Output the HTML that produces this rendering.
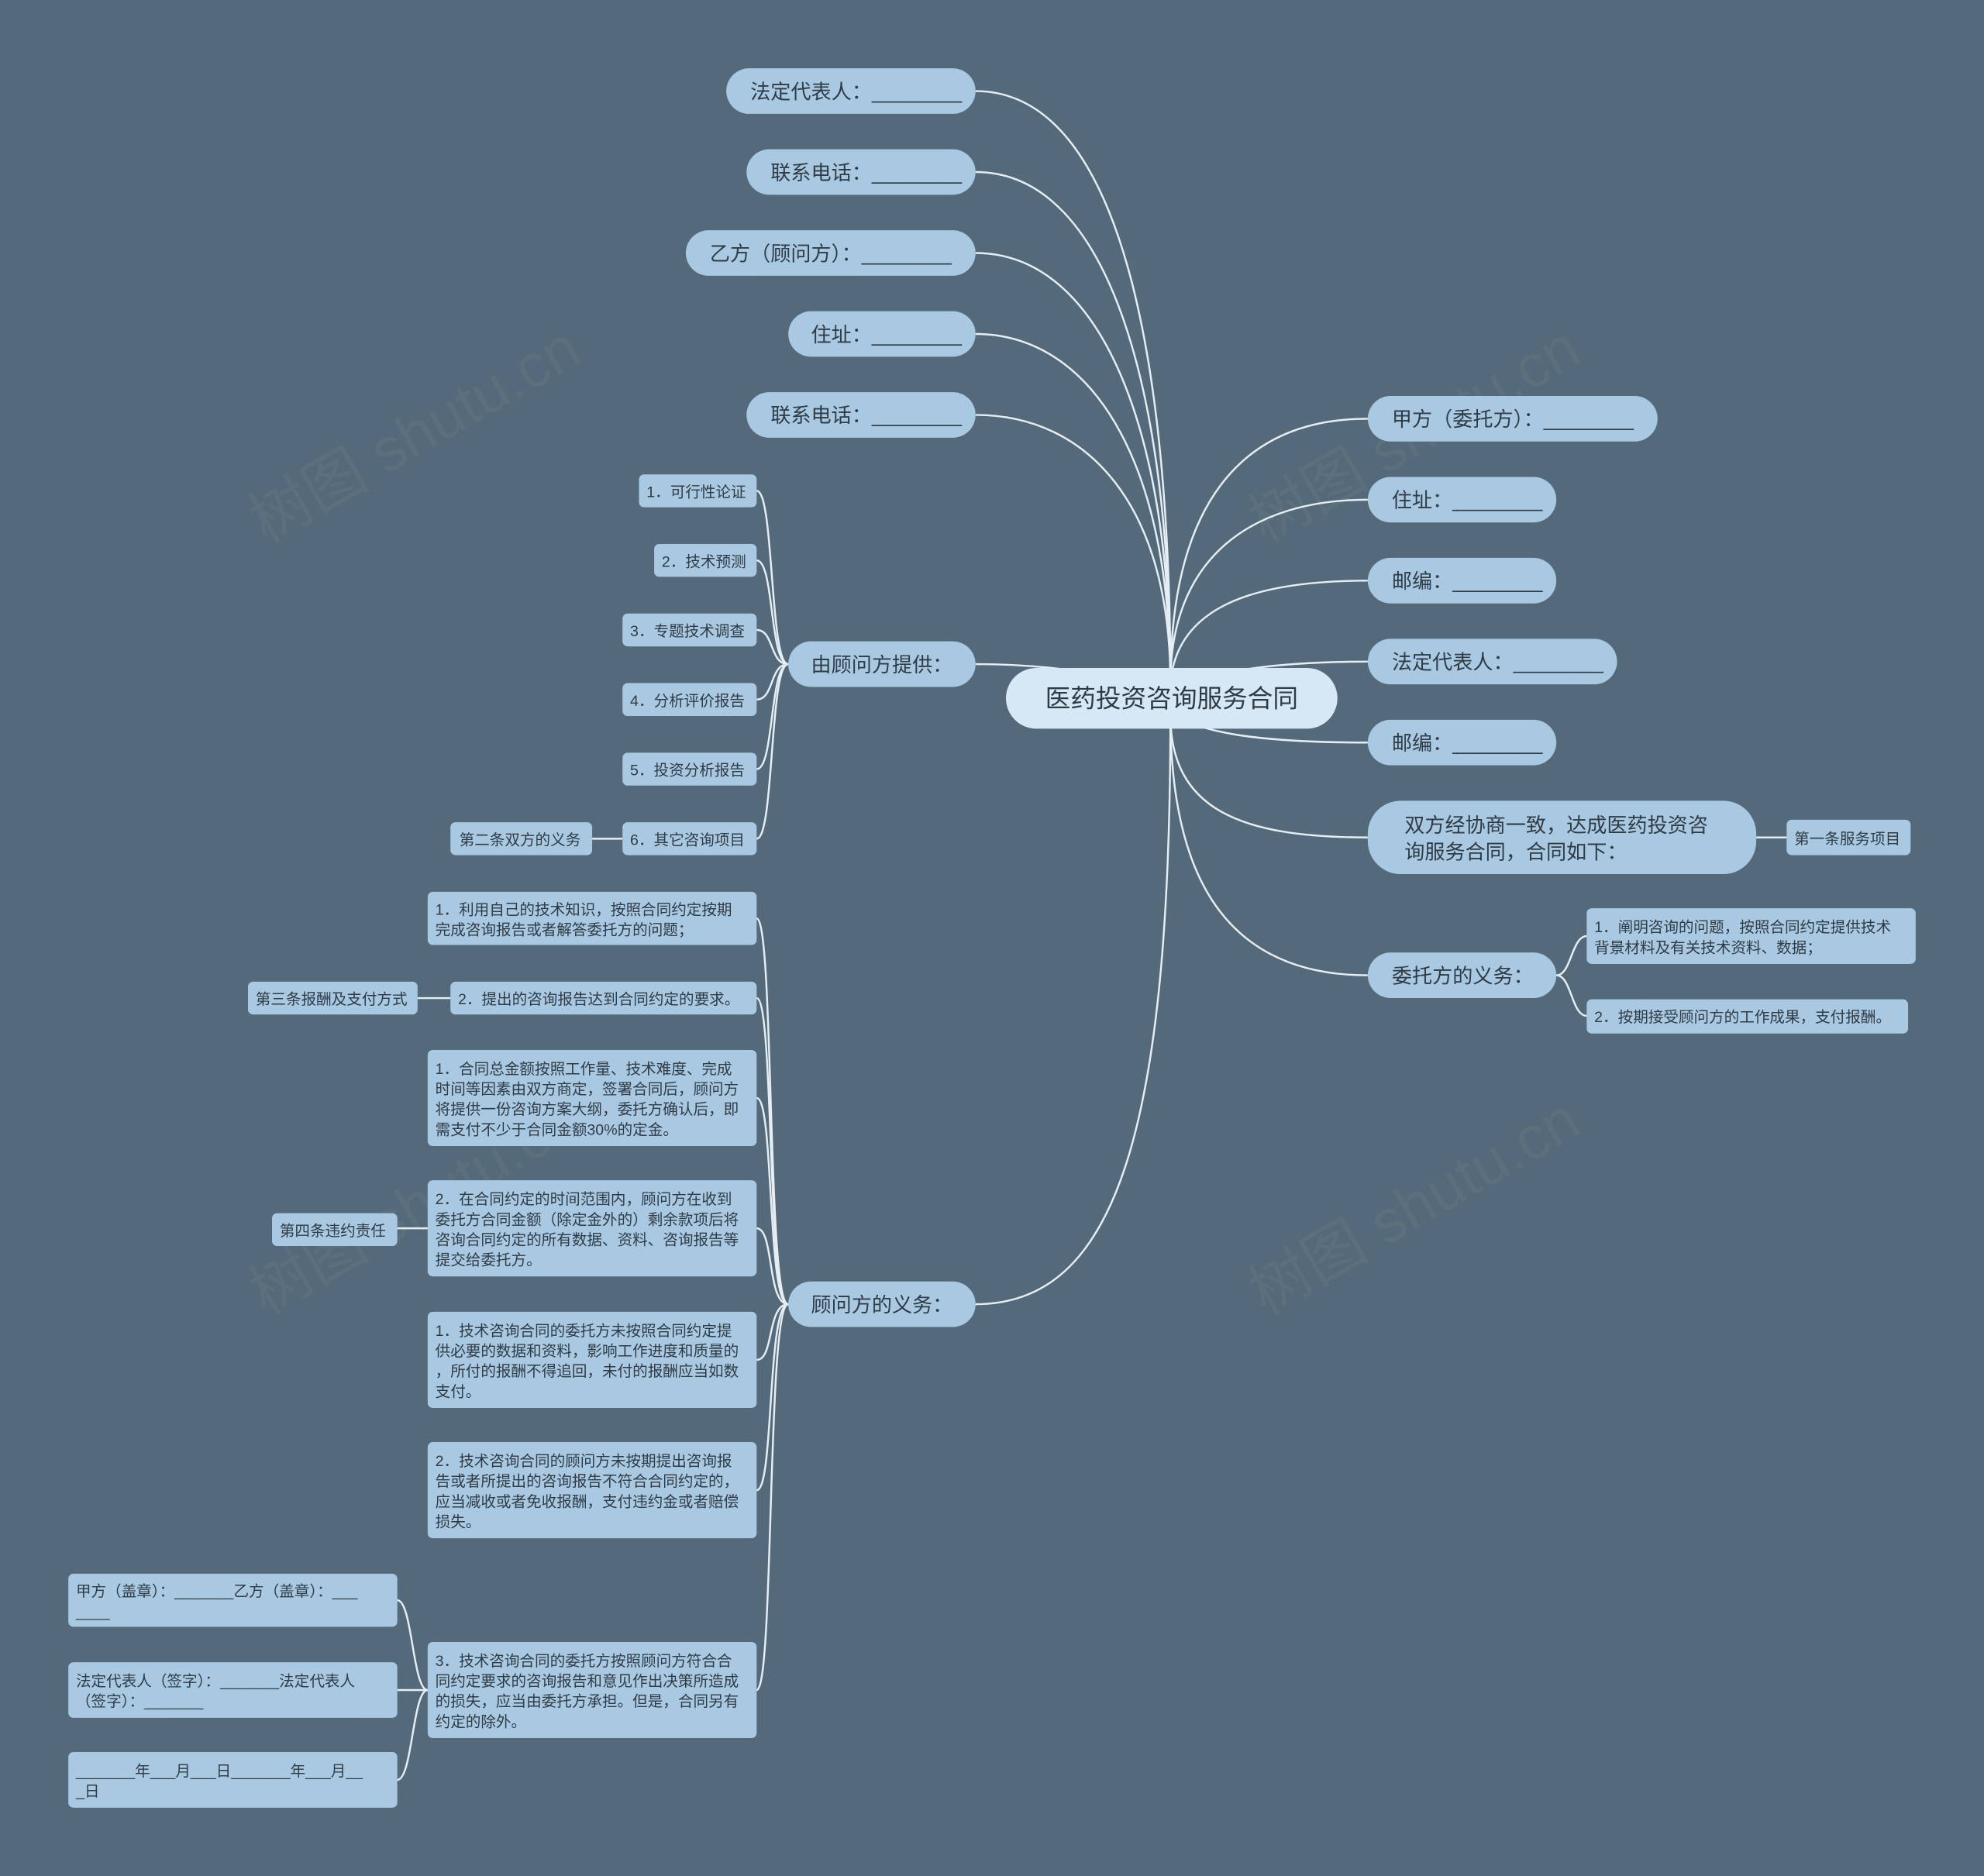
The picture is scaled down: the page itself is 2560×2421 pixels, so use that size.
<!DOCTYPE html>
<html><head><meta charset="utf-8"><style>
html,body{margin:0;padding:0;background:#546a7a;}
svg{display:block}
text{font-family:"Liberation Sans","Noto Sans CJK SC",sans-serif;fill:#2f3b45}
.n{fill:#a9c9e3}
.s{font-size:12px}
.m{font-size:16px}
path{fill:none;stroke:#e6eef4;stroke-width:1.5}
</style></head><body>
<svg width="2560" height="2421" viewBox="0 0 1568 1483" preserveAspectRatio="none" xmlns="http://www.w3.org/2000/svg">
<rect width="1568" height="1483" fill="#546a7a"/>
<g font-size="48" fill="#5f7382" opacity="0.5" style="font-family:'Liberation Serif','Noto Serif CJK SC',serif">
<text x="210" y="430" transform="rotate(-30 210 430)" style="fill:#62757f">树图 shutu.cn</text>
<text x="1000" y="430" transform="rotate(-30 1000 430)" style="fill:#62757f">树图 shutu.cn</text>
<text x="210" y="1040" transform="rotate(-30 210 1040)" style="fill:#62757f">树图 shutu.cn</text>
<text x="1000" y="1040" transform="rotate(-30 1000 1040)" style="fill:#62757f">树图 shutu.cn</text>
</g>
<!-- connectors from center -->
<path d="M771 72 C890 72 925 300 925 540"/>
<path d="M771 136 C880 136 925 320 925 540"/>
<path d="M771 200 C870 200 925 340 925 540"/>
<path d="M771 264 C860 264 925 360 925 540"/>
<path d="M771 328 C860 328 925 400 925 540"/>
<path d="M771 525 C820 525 850 530 925 540"/>
<path d="M771 1031 C880 1031 925 900 925 565"/>
<path d="M1081 331 C980 331 925 400 925 540"/>
<path d="M1081 395 C990 395 925 440 925 540"/>
<path d="M1081 459 C990 459 930 480 925 540"/>
<path d="M1081 523 C1010 523 960 530 925 545"/>
<path d="M1081 587 C1000 587 940 580 925 560"/>
<path d="M1081 662 C980 662 925 640 925 565"/>
<path d="M1081 771 C960 771 925 680 925 565"/>
<path d="M1388 662 L1412 662"/>
<path d="M1230 771 C1242 771 1242 740 1254 740"/>
<path d="M1230 771 C1242 771 1242 803 1254 803"/>
<!-- 由顾问方提供 children -->
<path d="M623 525 C608 525 612 388 598 388"/>
<path d="M623 525 C608 525 612 443 598 443"/>
<path d="M623 525 C608 525 612 498 598 498"/>
<path d="M623 525 C608 525 612 553 598 553"/>
<path d="M623 525 C608 525 612 608 598 608"/>
<path d="M623 525 C608 525 612 663 598 663"/>
<path d="M492 663 L468 663"/>
<!-- 顾问方的义务 children -->
<path d="M623 1031 C606 1031 612 726 598 726"/>
<path d="M623 1031 C606 1031 612 789 598 789"/>
<path d="M623 1031 C606 1031 612 868 598 868"/>
<path d="M623 1031 C606 1031 612 971 598 971"/>
<path d="M623 1031 C606 1031 612 1075 598 1075"/>
<path d="M623 1031 C606 1031 612 1178 598 1178"/>
<path d="M623 1031 C606 1031 612 1336 598 1336"/>
<path d="M356 789 L330 789"/>
<path d="M338 971 L314 971"/>
<path d="M338 1336 C326 1336 326 1265 314 1265"/>
<path d="M338 1336 C326 1336 326 1336 314 1336"/>
<path d="M338 1336 C326 1336 326 1407 314 1407"/>

<!-- center -->
<rect x="795" y="528" width="262" height="48" rx="24" fill="#d6e8f5"/>
<text x="926" y="559" font-size="20" text-anchor="middle">医药投资咨询服务合同</text>

<!-- left top -->
<rect class="n" x="574" y="54" width="197" height="36" rx="18"/><text class="m" x="593" y="78">法定代表人：________</text>
<rect class="n" x="590" y="118" width="181" height="36" rx="18"/><text class="m" x="609" y="142">联系电话：________</text>
<rect class="n" x="542" y="182" width="229" height="36" rx="18"/><text class="m" x="561" y="206">乙方（顾问方）：________</text>
<rect class="n" x="623" y="246" width="148" height="36" rx="18"/><text class="m" x="641" y="270">住址：________</text>
<rect class="n" x="590" y="310" width="181" height="36" rx="18"/><text class="m" x="609" y="334">联系电话：________</text>

<!-- right -->
<rect class="n" x="1081" y="313" width="229" height="36" rx="18"/><text class="m" x="1100" y="337">甲方（委托方）：________</text>
<rect class="n" x="1081" y="377" width="149" height="36" rx="18"/><text class="m" x="1100" y="401">住址：________</text>
<rect class="n" x="1081" y="441" width="149" height="36" rx="18"/><text class="m" x="1100" y="465">邮编：________</text>
<rect class="n" x="1081" y="505" width="197" height="36" rx="18"/><text class="m" x="1100" y="529">法定代表人：________</text>
<rect class="n" x="1081" y="569" width="149" height="36" rx="18"/><text class="m" x="1100" y="593">邮编：________</text>
<rect class="n" x="1081" y="633" width="307" height="58" rx="26"/><text class="m" x="1110" y="658">双方经协商一致，达成医药投资咨</text><text class="m" x="1110" y="679">询服务合同，合同如下：</text>
<rect class="n" x="1412" y="648" width="98" height="28" rx="4"/><text class="s" x="1418" y="667">第一条服务项目</text>
<rect class="n" x="1081" y="753" width="149" height="36" rx="18"/><text class="m" x="1100" y="777">委托方的义务：</text>
<rect class="n" x="1254" y="718" width="260" height="44" rx="4"/><text class="s" x="1260" y="737">1．阐明咨询的问题，按照合同约定提供技术</text><text class="s" x="1260" y="753">背景材料及有关技术资料、数据；</text>
<rect class="n" x="1254" y="790" width="254" height="27" rx="4"/><text class="s" x="1260" y="808">2．按期接受顾问方的工作成果，支付报酬。</text>

<!-- 由顾问方提供 -->
<rect class="n" x="623" y="507" width="148" height="36" rx="18"/><text class="m" x="641" y="531">由顾问方提供：</text>
<rect class="n" x="505" y="375" width="93" height="26" rx="4"/><text class="s" x="511" y="393">1．可行性论证</text>
<rect class="n" x="517" y="430" width="81" height="26" rx="4"/><text class="s" x="523" y="448">2．技术预测</text>
<rect class="n" x="492" y="485" width="106" height="26" rx="4"/><text class="s" x="498" y="503">3．专题技术调查</text>
<rect class="n" x="492" y="540" width="106" height="26" rx="4"/><text class="s" x="498" y="558">4．分析评价报告</text>
<rect class="n" x="492" y="595" width="106" height="26" rx="4"/><text class="s" x="498" y="613">5．投资分析报告</text>
<rect class="n" x="492" y="650" width="106" height="26" rx="4"/><text class="s" x="498" y="668">6．其它咨询项目</text>
<rect class="n" x="356" y="650" width="112" height="26" rx="4"/><text class="s" x="363" y="668">第二条双方的义务</text>

<!-- 顾问方的义务 -->
<rect class="n" x="623" y="1013" width="148" height="36" rx="18"/><text class="m" x="641" y="1037">顾问方的义务：</text>
<rect class="n" x="338" y="705" width="260" height="42" rx="4"/><text class="s" x="344" y="723">1．利用自己的技术知识，按照合同约定按期</text><text class="s" x="344" y="739">完成咨询报告或者解答委托方的问题；</text>
<rect class="n" x="356" y="776" width="242" height="26" rx="4"/><text class="s" x="362" y="794">2．提出的咨询报告达到合同约定的要求。</text>
<rect class="n" x="196" y="776" width="134" height="26" rx="4"/><text class="s" x="202" y="794">第三条报酬及支付方式</text>
<rect class="n" x="338" y="830" width="260" height="76" rx="4"/>
<text class="s" x="344" y="849">1．合同总金额按照工作量、技术难度、完成</text><text class="s" x="344" y="865">时间等因素由双方商定，签署合同后，顾问方</text><text class="s" x="344" y="881">将提供一份咨询方案大纲，委托方确认后，即</text><text class="s" x="344" y="897">需支付不少于合同金额30%的定金。</text>
<rect class="n" x="338" y="933" width="260" height="76" rx="4"/>
<text class="s" x="344" y="952">2．在合同约定的时间范围内，顾问方在收到</text><text class="s" x="344" y="968">委托方合同金额（除定金外的）剩余款项后将</text><text class="s" x="344" y="984">咨询合同约定的所有数据、资料、咨询报告等</text><text class="s" x="344" y="1000">提交给委托方。</text>
<rect class="n" x="215" y="959" width="99" height="26" rx="4"/><text class="s" x="221" y="977">第四条违约责任</text>
<rect class="n" x="338" y="1037" width="260" height="76" rx="4"/>
<text class="s" x="344" y="1056">1．技术咨询合同的委托方未按照合同约定提</text><text class="s" x="344" y="1072">供必要的数据和资料，影响工作进度和质量的</text><text class="s" x="344" y="1088">，所付的报酬不得追回，未付的报酬应当如数</text><text class="s" x="344" y="1104">支付。</text>
<rect class="n" x="338" y="1140" width="260" height="76" rx="4"/>
<text class="s" x="344" y="1159">2．技术咨询合同的顾问方未按期提出咨询报</text><text class="s" x="344" y="1175">告或者所提出的咨询报告不符合合同约定的，</text><text class="s" x="344" y="1191">应当减收或者免收报酬，支付违约金或者赔偿</text><text class="s" x="344" y="1207">损失。</text>
<rect class="n" x="338" y="1298" width="260" height="76" rx="4"/>
<text class="s" x="344" y="1317">3．技术咨询合同的委托方按照顾问方符合合</text><text class="s" x="344" y="1333">同约定要求的咨询报告和意见作出决策所造成</text><text class="s" x="344" y="1349">的损失，应当由委托方承担。但是，合同另有</text><text class="s" x="344" y="1365">约定的除外。</text>
<rect class="n" x="54" y="1244" width="260" height="42" rx="4"/><text class="s" x="60" y="1262">甲方（盖章）：_______乙方（盖章）：___</text><text class="s" x="60" y="1278">____</text>
<rect class="n" x="54" y="1314" width="260" height="44" rx="4"/><text class="s" x="60" y="1333">法定代表人（签字）：_______法定代表人</text><text class="s" x="60" y="1349">（签字）：_______</text>
<rect class="n" x="54" y="1385" width="260" height="44" rx="4"/><text class="s" x="60" y="1404">_______年___月___日_______年___月__</text><text class="s" x="60" y="1420">_日</text>
</svg>
</body></html>
